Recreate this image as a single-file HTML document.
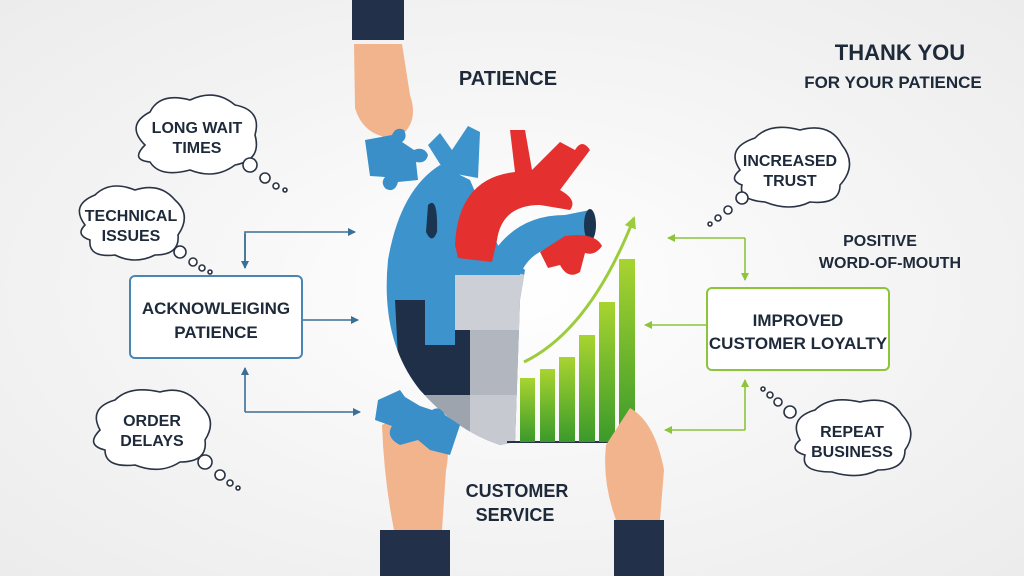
<!DOCTYPE html>
<html><head><meta charset="utf-8"><style>
html,body{margin:0;padding:0;}
body{width:1024px;height:576px;overflow:hidden;background:radial-gradient(ellipse at 50% 50%,#ffffff 0%,#f4f4f4 55%,#ececec 100%);}
svg{display:block}
text{font-family:"Liberation Sans",sans-serif;font-weight:bold;fill:#1e2a3a;text-anchor:middle}
</style></head><body>
<svg width="1024" height="576" viewBox="0 0 1024 576">
<defs>
<marker id="ab" markerWidth="8" markerHeight="8" refX="7" refY="4" orient="auto" markerUnits="userSpaceOnUse"><path d="M0,0 L8,4 L0,8 z" fill="#3a6f96"/></marker>
<marker id="ag" markerWidth="8" markerHeight="8" refX="7" refY="4" orient="auto" markerUnits="userSpaceOnUse"><path d="M0,0 L8,4 L0,8 z" fill="#8cc43c"/></marker>
<marker id="ag2" markerWidth="12" markerHeight="12" refX="10" refY="6" orient="auto" markerUnits="userSpaceOnUse"><path d="M0,0 L12,6 L0,12 z" fill="#9ccc3c"/></marker>
<linearGradient id="gb" x1="0" y1="0" x2="0" y2="1"><stop offset="0" stop-color="#a8d430"/><stop offset="1" stop-color="#3a9a2a"/></linearGradient>
<clipPath id="hc"><path d="M440,165 Q400,190 388,260 Q380,340 420,390 Q455,430 500,445 L515,442 L520,300 L525,270 L500,250 L470,180 Z"/></clipPath>
</defs>

<!-- top hand -->
<rect x="352" y="0" width="52" height="40" fill="#22304a"/>
<path d="M354,44 L402,44 L410,95 Q418,118 405,132 L385,137 Q362,132 355,108 Z" fill="#f2b48c"/>
<path d="M365,140 L392,135 Q396,126 404,130 Q408,138 402,142 L414,150 Q424,146 428,155 Q426,164 416,162 L418,180 L398,182 Q395,193 386,189 Q380,183 385,177 L370,176 Z" fill="#3a8fc8"/>

<!-- heart -->
<g clip-path="url(#hc)">
<rect x="380" y="160" width="150" height="290" fill="#3d93cc"/>
<path d="M455,275 L500,275 Q505,262 515,272 L525,275 L525,330 L455,330 Z" fill="#ccd0d6"/>
<path d="M395,300 L455,300 L455,330 L470,330 L470,395 L400,395 Z" fill="#1e2f47"/>
<path d="M425,300 L455,300 L455,345 L425,345 Z" fill="#3d93cc"/>
<path d="M470,330 L525,330 L525,395 L470,395 Z" fill="#b2b6be"/>
<path d="M380,395 L525,395 L525,450 L380,450 Z" fill="#9ea4ae"/>
<path d="M470,395 L525,395 L525,450 L470,450 Z" fill="#c6cad0"/>
</g>
<path d="M428,145 L440,133 L452,150 L468,126 L480,132 L478,178 L445,172 Z" fill="#3d93cc"/>
<path d="M428,205 Q438,195 437,232 Q432,245 426,232 Z" fill="#1b3550"/>
<path d="M495,250 Q520,215 565,215 L590,210 L592,240 L560,245 Q530,250 520,275 L500,275 Z" fill="#3d93cc"/>
<ellipse cx="590" cy="225" rx="6" ry="16" fill="#1b3550"/>
<path d="M455,245 Q458,178 515,172 L510,130 L525,130 L532,170 L560,142 L575,150 Q582,138 590,150 L560,190 Q578,200 570,210 L540,205 Q502,205 497,240 L492,262 L458,258 Z" fill="#e4302f"/>
<path d="M540,252 L565,236 Q595,232 602,246 Q595,256 585,253 L580,272 Q568,280 560,265 L548,268 Z" fill="#e4302f"/>

<!-- bars -->
<line x1="507" y1="442" x2="647" y2="442" stroke="#2a3344" stroke-width="2"/>
<rect x="520" y="378" width="15" height="64" fill="url(#gb)"/>
<rect x="540" y="369" width="15" height="73" fill="url(#gb)"/>
<rect x="559" y="357" width="16" height="85" fill="url(#gb)"/>
<rect x="579" y="335" width="16" height="107" fill="url(#gb)"/>
<rect x="599" y="302" width="16" height="140" fill="url(#gb)"/>
<rect x="619" y="259" width="16" height="183" fill="url(#gb)"/>
<path d="M524,362 Q590,330 634,218" stroke="#9ccc3c" stroke-width="3" fill="none" marker-end="url(#ag2)"/>

<!-- bottom left hand -->
<path d="M382,425 L410,410 L438,428 Q452,442 446,470 L442,530 L394,530 Q384,480 382,425 Z" fill="#f2b48c"/>
<path d="M378,400 L400,390 L405,397 L420,406 L432,410 Q440,405 445,415 L460,425 L450,455 L430,450 L418,440 L400,445 Q385,437 392,426 L375,420 Z" fill="#3a8fc8"/>
<rect x="380" y="530" width="70" height="46" fill="#22304a"/>
<!-- bottom right hand -->
<path d="M606,445 L630,408 Q655,422 664,470 L660,520 L616,520 Q602,482 606,445 Z" fill="#f2b48c"/>
<rect x="614" y="520" width="50" height="56" fill="#22304a"/>

<!-- blue connectors -->
<path d="M245,268 L245,232 L355,232" stroke="#3a6f96" stroke-width="1.6" fill="none" marker-end="url(#ab)"/>
<path d="M245,234 L245,268" stroke="#3a6f96" stroke-width="1.6" fill="none" marker-end="url(#ab)"/>
<path d="M302,320 L358,320" stroke="#3a6f96" stroke-width="1.6" fill="none" marker-end="url(#ab)"/>
<path d="M245,412 L245,368" stroke="#3a6f96" stroke-width="1.6" fill="none" marker-end="url(#ab)"/>
<path d="M245,412 L360,412" stroke="#3a6f96" stroke-width="1.6" fill="none" marker-end="url(#ab)"/>
<!-- green connectors -->
<path d="M745,238 L668,238" stroke="#8cc43c" stroke-width="1.6" fill="none" marker-end="url(#ag)"/>
<path d="M745,238 L745,280" stroke="#8cc43c" stroke-width="1.6" fill="none" marker-end="url(#ag)"/>
<path d="M707,325 L645,325" stroke="#8cc43c" stroke-width="1.6" fill="none" marker-end="url(#ag)"/>
<path d="M745,430 L745,380" stroke="#8cc43c" stroke-width="1.6" fill="none" marker-end="url(#ag)"/>
<path d="M745,430 L665,430" stroke="#8cc43c" stroke-width="1.6" fill="none" marker-end="url(#ag)"/>

<!-- boxes -->
<rect x="130" y="276" width="172" height="82" rx="5" fill="#fff" stroke="#4a86b4" stroke-width="2"/>
<text x="216" y="314" font-size="17">ACKNOWLEIGING</text>
<text x="216" y="338" font-size="17">PATIENCE</text>
<rect x="707" y="288" width="182" height="82" rx="5" fill="#fff" stroke="#8cc43c" stroke-width="2"/>
<text x="798" y="326" font-size="17">IMPROVED</text>
<text x="798" y="349" font-size="17">CUSTOMER LOYALTY</text>

<!-- clouds -->
<g fill="#fff" stroke="#2a3344" stroke-width="1.6">
<path d="M145,145 Q125,125 150,112 Q160,92 190,100 Q215,88 235,105 Q262,110 255,135 Q262,160 235,165 Q215,180 190,170 Q160,178 150,162 Q130,160 145,145 Z"/>
<circle cx="250" cy="165" r="7"/><circle cx="265" cy="178" r="5"/><circle cx="276" cy="186" r="3"/><circle cx="285" cy="190" r="2"/>
<path d="M85,225 Q70,205 95,195 Q110,180 135,190 Q160,182 175,200 Q192,215 178,235 Q180,255 155,255 Q135,265 115,255 Q88,258 90,240 Q75,235 85,225 Z"/>
<circle cx="180" cy="252" r="6"/><circle cx="193" cy="262" r="4"/><circle cx="202" cy="268" r="3"/><circle cx="210" cy="272" r="2"/>
<path d="M100,430 Q88,408 115,400 Q130,385 160,392 Q185,385 200,405 Q218,420 205,440 Q208,462 180,462 Q160,475 135,465 Q105,468 105,450 Q85,445 100,430 Z"/>
<circle cx="205" cy="462" r="7"/><circle cx="220" cy="475" r="5"/><circle cx="230" cy="483" r="3"/><circle cx="238" cy="488" r="2"/>
<path d="M740,170 Q725,148 755,138 Q770,122 800,130 Q830,122 842,145 Q858,165 840,185 Q840,205 810,202 Q790,212 765,202 Q738,200 742,185 Q728,180 740,170 Z"/>
<circle cx="742" cy="198" r="6"/><circle cx="728" cy="210" r="4"/><circle cx="718" cy="218" r="3"/><circle cx="710" cy="224" r="2"/>
<path d="M800,440 Q788,418 815,410 Q830,395 860,402 Q890,395 902,415 Q918,432 905,450 Q905,470 878,470 Q858,480 832,472 Q800,472 805,455 Q788,450 800,440 Z"/>
<circle cx="790" cy="412" r="6"/><circle cx="778" cy="402" r="4"/><circle cx="770" cy="395" r="3"/><circle cx="763" cy="389" r="2"/>
</g>
<text x="197" y="133" font-size="16">LONG WAIT</text>
<text x="197" y="153" font-size="16">TIMES</text>
<text x="131" y="221" font-size="16">TECHNICAL</text>
<text x="131" y="241" font-size="16">ISSUES</text>
<text x="152" y="426" font-size="16">ORDER</text>
<text x="152" y="446" font-size="16">DELAYS</text>
<text x="790" y="166" font-size="16">INCREASED</text>
<text x="790" y="186" font-size="16">TRUST</text>
<text x="852" y="437" font-size="16">REPEAT</text>
<text x="852" y="457" font-size="16">BUSINESS</text>

<text x="508" y="85" font-size="20">PATIENCE</text>
<text x="900" y="60" font-size="22">THANK YOU</text>
<text x="893" y="88" font-size="17">FOR YOUR PATIENCE</text>
<text x="517" y="497" font-size="18">CUSTOMER</text>
<text x="515" y="521" font-size="18">SERVICE</text>
<text x="880" y="246" font-size="16">POSITIVE</text>
<text x="890" y="268" font-size="16">WORD-OF-MOUTH</text>
</svg>
</body></html>
